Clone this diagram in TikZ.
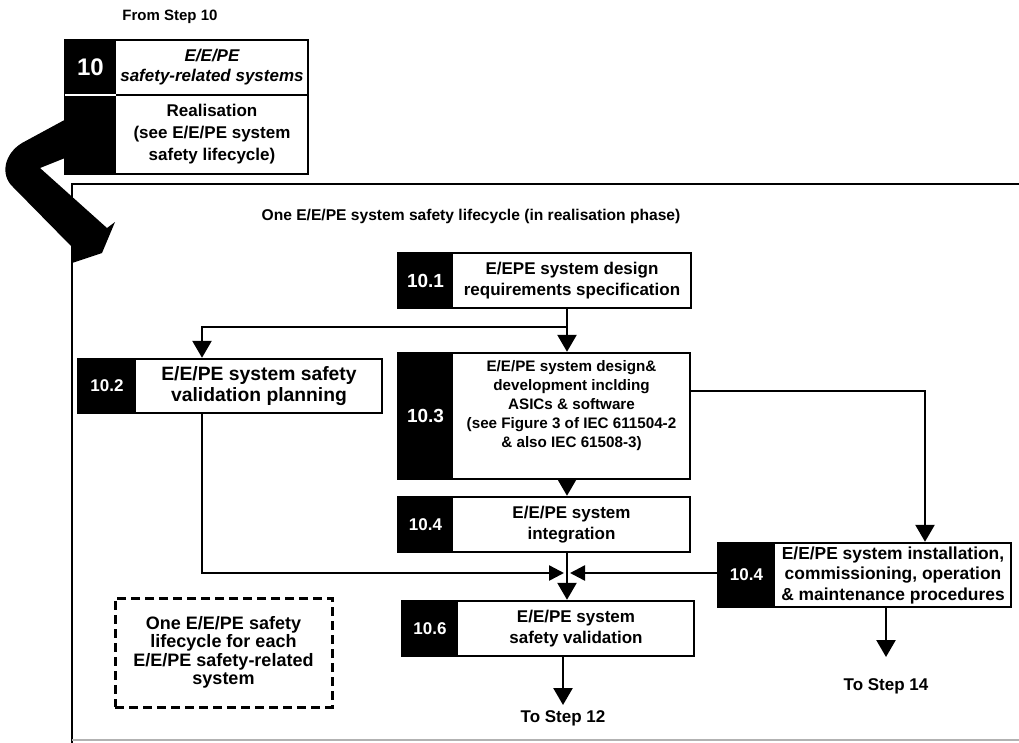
\documentclass[tikz,border=0pt]{standalone}
\usepackage{fontspec}
\setmainfont{Liberation Sans}
\usetikzlibrary{arrows.meta,calc}
\newcommand\sbnumfont{\fontsize{18}{20}\bfseries\selectfont}
\newcommand\sbtextdy{0}
\newcommand\stepbox[8]{%
\pgfmathsetmacro\sbw{#4-#2}%
\pgfmathsetmacro\sbh{#5-#3}%
\pgfmathsetmacro\sbcx{(#2+#4)/2}%
\pgfmathsetmacro\sbcy{(#3+#5)/2}%
\pgfmathsetmacro\sbty{(#3+#5)/2+\sbtextdy}%
\pgfmathsetmacro\sbnx{(#2+#6)/2}%
\pgfmathsetmacro\sbtx{(#6+#4)/2}%
\node[sbox, minimum width=\sbw pt, minimum height=\sbh pt] (#1) at (\sbcx,\sbcy) {};
\fill (#2,#3) rectangle (#6,#5);
\node[numlab] (#1-num) at (\sbnx,\sbcy) {#7};
\node[boxtext] (#1-txt) at (\sbtx,\sbty) {#8};
}
\begin{document}
\begin{tikzpicture}[x=1pt,y=-1pt,
  sbox/.style={draw=black, fill=white, line width=2.4pt, inner sep=0pt},
  numlab/.style={text=white, font=\sbnumfont, inner sep=0pt},
  boxtext/.style={align=center, inner sep=0pt, font=\fontsize{17}{20.5}\bfseries\selectfont},
  conn/.style={line width=2.5pt, draw=black},
  tip/.style={-{Triangle[width=19pt,length=17pt]}},
  smalltip/.style={-{Triangle[width=15pt,length=15pt]}},
  lbl/.style={inner sep=0pt, font=\fontsize{17}{20}\bfseries\selectfont}
]
\useasboundingbox (0,0) rectangle (1019,742);
\fill[white] (0,0) rectangle (1019,742);

% outer frame
\draw[line width=2.3pt] (1020,184) -- (72,184) -- (72,743);
\draw[gray!60, line width=1.5pt] (72,740) -- (1020,740);

% texts
\node[inner sep=0pt, font=\fontsize{15}{18}\bfseries\selectfont] (from) at (170,17) {From Step 10};
\node[inner sep=0pt, font=\fontsize{15.6}{18}\bfseries\selectfont] (title) at (471,216) {One E/E/PE system safety lifecycle (in realisation phase)};

% box 10
\node[sbox, minimum width=243pt, minimum height=134pt] (b10) at (186.5,107) {};
\fill (65,40) rectangle (116,174);
\draw[line width=2pt] (116,95) -- (308,95);
\draw[white, line width=1.2pt] (65,95) -- (116,95);
\node[text=white, inner sep=0pt, font=\fontsize{24}{26}\bfseries\selectfont] (b10-num) at (90.5,67) {10};
\node[boxtext, font=\fontsize{17}{20.5}\bfseries\itshape\selectfont] (b10-top) at (212,67) {E/E/PE\\safety-related systems};
\node[boxtext, font=\fontsize{17}{22}\bfseries\selectfont] (b10-bot) at (212,134) {Realisation\\(see E/E/PE system\\safety lifecycle)};

% big curved arrow
\fill (70,117) -- (22,143) .. controls (4,154) and (0,175) .. (13,187)
  -- (72,247) -- (72,263) -- (102,253) -- (115,222) -- (107,228)
  -- (40,168) -- (70,156) -- cycle;

% step boxes
\renewcommand\sbnumfont{\fontsize{19}{20}\bfseries\selectfont}
\stepbox{b101}{398}{253}{691}{308}{453}{10.1}{E/EPE system design\\requirements specification}
\renewcommand\sbnumfont{\fontsize{17}{20}\bfseries\selectfont}
\tikzset{boxtext/.append style={font=\fontsize{19.3}{21}\bfseries\selectfont}}
\stepbox{b102}{78}{359}{382}{413}{136}{10.2}{E/E/PE system safety\\validation planning}
\renewcommand\sbnumfont{\fontsize{19}{20}\bfseries\selectfont}
\renewcommand\sbtextdy{-10}
\tikzset{boxtext/.append style={font=\fontsize{15.2}{19}\bfseries\selectfont}}
\stepbox{b103}{398}{353}{690}{479}{453}{10.3}{E/E/PE system design\&\\development inclding\\ASICs \& software\\(see Figure 3 of IEC 611504-2\\\& also IEC 61508-3)}
\renewcommand\sbtextdy{0}
\tikzset{boxtext/.append style={font=\fontsize{17}{20.5}\bfseries\selectfont}}
\renewcommand\sbnumfont{\fontsize{17}{20}\bfseries\selectfont}
\stepbox{b104}{398}{497}{690}{552}{453}{10.4}{E/E/PE system\\integration}
\tikzset{boxtext/.append style={font=\fontsize{17.4}{20.5}\bfseries\selectfont}}
\stepbox{b104r}{718}{543}{1011}{607}{775}{10.4}{E/E/PE system installation,\\commissioning, operation\\\& maintenance procedures}
\tikzset{boxtext/.append style={font=\fontsize{17}{20.5}\bfseries\selectfont}}
\stepbox{b106}{402}{601}{694}{656}{458}{10.6}{E/E/PE system\\safety validation}

% dashed note
\node[draw, dash pattern=on 9pt off 5pt, line width=3pt, minimum width=217pt, minimum height=109pt,
  align=center, inner sep=0pt, font=\fontsize{18}{18.5}\bfseries\selectfont] (note) at (223.5,652.5)
  {One E/E/PE safety\\lifecycle for each\\E/E/PE safety-related\\system};

% connectors
\coordinate (j1) at (567,327);
\coordinate (k2) at (202,573);
\coordinate (jl) at (564,573);
\coordinate (jr) at (570,573);
\coordinate (r1) at (925,391);
\coordinate (s14) at (886,657);
\coordinate (s12) at (563,705);

\draw[conn, tip] (b101.south -| j1) -- (b103.north -| j1);
\draw[conn, tip] (j1) -| (b102.north -| k2);
\draw[conn, tip] (b103.east |- r1) -| (b104r.north -| r1);
\draw[conn, tip] (b103.south -| j1) -- (b104.north -| j1);
\draw[conn, tip] (b104.south -| j1) -- (b106.north -| j1);
\draw[conn, smalltip] (b102.south -| k2) |- (jl);
\draw[conn, smalltip] (b104r.west |- jr) -- (jr);
\draw[conn, tip] (b104r.south -| s14) -- (s14);
\draw[conn, tip] (b106.south -| s12) -- (s12);

\node[lbl] (t14) at (886,686) {To Step 14};
\node[lbl] (t12) at (563,718) {To Step 12};
\end{tikzpicture}
\end{document}
